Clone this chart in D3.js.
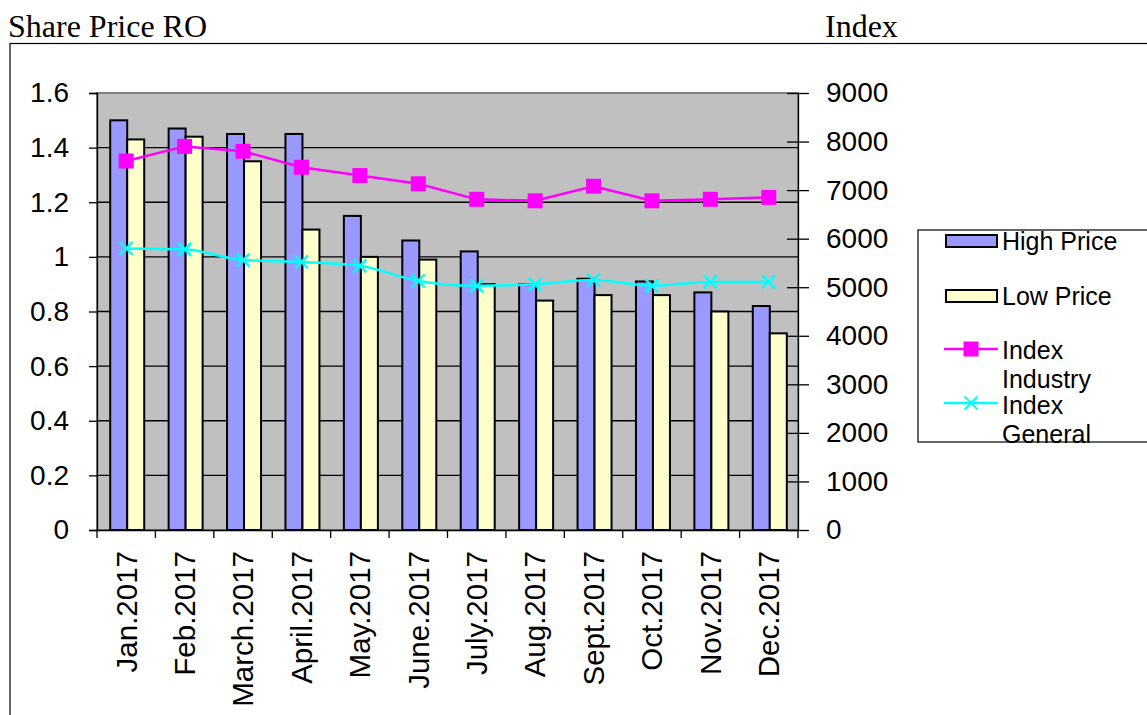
<!DOCTYPE html>
<html>
<head>
<meta charset="utf-8">
<script src="https://cdn.jsdelivr.net/npm/d3@7"></script>
<style>
  body { margin: 0; background: #fff; }
  svg text { font-family: "Liberation Sans", Arial, sans-serif; }
</style>
</head>
<body>
<div id="chart"></div>
<script>
// Data
const months = ['Jan.2017', 'Feb.2017', 'March.2017', 'April.2017', 'May.2017', 'June.2017',
    'July.2017', 'Aug.2017', 'Sept.2017', 'Oct.2017', 'Nov.2017', 'Dec.2017'];
const highPrice = [1.50, 1.47, 1.45, 1.45, 1.15, 1.06, 1.02, 0.90, 0.92, 0.91, 0.87, 0.82];
const lowPrice = [1.43, 1.44, 1.35, 1.10, 1.00, 0.99, 0.90, 0.84, 0.86, 0.86, 0.80, 0.72];
const indexIndustry = [7600, 7900, 7800, 7470, 7300, 7130, 6810, 6780, 7080, 6780, 6810, 6850];
const indexGeneral = [5800, 5780, 5560, 5520, 5440, 5130, 5030, 5060, 5150, 5030, 5110, 5110];
const leftTicks = [0, 0.2, 0.4, 0.6, 0.8, 1, 1.2, 1.4, 1.6];
const rightTicks = [0, 1000, 2000, 3000, 4000, 5000, 6000, 7000, 8000, 9000];

const width = 1147;
const height = 715;
const plot = { left: 97, right: 798, top: 93, bottom: 530 };

const svg = d3.select('#chart')
    .append('svg')
    .attr('width', width)
    .attr('height', height);

// Titles above the frame
svg.append('text')
    .attr('x', 8).attr('y', 37)
    .style('font-family', '"Liberation Serif", "Times New Roman", serif')
    .style('font-size', '32px')
    .text('Share Price RO');
svg.append('text')
    .attr('x', 825).attr('y', 37)
    .style('font-family', '"Liberation Serif", "Times New Roman", serif')
    .style('font-size', '32px')
    .text('Index');

// Outer frame
svg.append('rect')
    .attr('x', 10).attr('y', 43.5)
    .attr('width', width).attr('height', height)
    .attr('fill', 'none')
    .attr('stroke', '#000')
    .attr('stroke-width', 1.2);

// Scales
const x = d3.scaleBand()
    .domain(months)
    .range([plot.left, plot.right]);

const yLeft = d3.scaleLinear()
    .domain([0, 1.6])
    .range([plot.bottom, plot.top]);

const yRight = d3.scaleLinear()
    .domain([0, 9000])
    .range([plot.bottom, plot.top]);

// Plot area
svg.append('rect')
    .attr('x', plot.left).attr('y', plot.top)
    .attr('width', plot.right - plot.left)
    .attr('height', plot.bottom - plot.top)
    .attr('fill', '#c0c0c0')
    .attr('stroke', '#808080')
    .attr('stroke-width', 2);

// Gridlines
svg.append('g')
    .selectAll('line')
    .data(leftTicks.slice(1, -1))
    .enter()
    .append('line')
    .attr('x1', plot.left).attr('x2', plot.right)
    .attr('y1', d => yLeft(d)).attr('y2', d => yLeft(d))
    .attr('stroke', '#000')
    .attr('stroke-width', 1.3);

// Bars
const barW = 17;
const bars = svg.append('g');
bars.selectAll('.high')
    .data(highPrice)
    .enter()
    .append('rect')
    .attr('class', 'high')
    .attr('x', (d, i) => x(months[i]) + x.bandwidth() / 2 - barW + 1)
    .attr('y', d => yLeft(d))
    .attr('width', barW)
    .attr('height', d => yLeft(0) - yLeft(d))
    .attr('fill', '#9999ff')
    .attr('stroke', '#000')
    .attr('stroke-width', 2);
bars.selectAll('.low')
    .data(lowPrice)
    .enter()
    .append('rect')
    .attr('class', 'low')
    .attr('x', (d, i) => x(months[i]) + x.bandwidth() / 2 + 1)
    .attr('y', d => yLeft(d))
    .attr('width', barW)
    .attr('height', d => yLeft(0) - yLeft(d))
    .attr('fill', '#ffffcc')
    .attr('stroke', '#000')
    .attr('stroke-width', 2);

// Axes
const leftAxis = d3.axisLeft(yLeft)
    .tickValues(leftTicks)
    .tickSize(8)
    .tickPadding(20)
    .tickFormat(d => d3.format('~g')(d));
svg.append('g')
    .attr('transform', `translate(${plot.left},0)`)
    .call(leftAxis)
    .call(g => g.selectAll('text').style('font-size', '28px').attr('fill', '#000'))
    .call(g => g.selectAll('line, path').attr('stroke', '#000').attr('stroke-width', 1.3));

const rightAxis = d3.axisRight(yRight)
    .tickValues(rightTicks)
    .tickSizeInner(11)
    .tickSizeOuter(0)
    .tickPadding(17)
    .tickFormat(d3.format('d'));
svg.append('g')
    .attr('transform', `translate(${plot.right},0)`)
    .call(rightAxis)
    .call(g => g.selectAll('.tick line').attr('x1', -11))
    .call(g => g.selectAll('text').style('font-size', '28px').attr('fill', '#000'))
    .call(g => g.selectAll('line, path').attr('stroke', '#000').attr('stroke-width', 1.3));

const xAxis = d3.axisBottom(x).tickSize(0).tickPadding(0);
const xg = svg.append('g')
    .attr('transform', `translate(0,${plot.bottom})`)
    .call(xAxis);
xg.select('.domain').attr('stroke', '#000').attr('stroke-width', 1.3);
xg.selectAll('text')
    .attr('transform', 'rotate(-90)')
    .attr('x', -21)
    .attr('y', 0)
    .attr('dy', '0.35em')
    .attr('text-anchor', 'end')
    .attr('fill', '#000')
    .style('font-size', '29.5px');
// boundary ticks between categories
xg.selectAll('.bound')
    .data(months.concat(['end']))
    .enter()
    .append('line')
    .attr('class', 'bound')
    .attr('x1', (d, i) => i < months.length ? x(d) : plot.right)
    .attr('x2', (d, i) => i < months.length ? x(d) : plot.right)
    .attr('y1', 0).attr('y2', 8)
    .attr('stroke', '#000')
    .attr('stroke-width', 1.3);

// Lines
const cx = (d, i) => x(months[i]) + x.bandwidth() / 2;
const lineGen = d3.line().x(cx).y(d => yRight(d));

svg.append('path')
    .datum(indexIndustry)
    .attr('d', lineGen)
    .attr('fill', 'none')
    .attr('stroke', '#ff00ff')
    .attr('stroke-width', 2.5);
svg.append('g')
    .selectAll('rect')
    .data(indexIndustry)
    .enter()
    .append('rect')
    .attr('x', (d, i) => cx(d, i) - 7.5)
    .attr('y', d => yRight(d) - 7.5)
    .attr('width', 15).attr('height', 15)
    .attr('fill', '#ff00ff');

svg.append('path')
    .datum(indexGeneral)
    .attr('d', lineGen.curve(d3.curveMonotoneX))
    .attr('fill', 'none')
    .attr('stroke', '#00ffff')
    .attr('stroke-width', 2.5);
const crossPath = 'M-6.5,-6.5L6.5,6.5M-6.5,6.5L6.5,-6.5';
svg.append('g')
    .selectAll('path')
    .data(indexGeneral)
    .enter()
    .append('path')
    .attr('transform', (d, i) => `translate(${cx(d, i)},${yRight(d)})`)
    .attr('d', crossPath)
    .attr('stroke', '#00ffff')
    .attr('stroke-width', 2.5);

// Legend
const legend = svg.append('g');
legend.append('rect')
    .attr('x', 918).attr('y', 230)
    .attr('width', 300).attr('height', 212)
    .attr('fill', '#fff')
    .attr('stroke', '#000')
    .attr('stroke-width', 1.2);

const legendText = (y, t) => legend.append('text')
    .attr('x', 1002).attr('y', y)
    .style('font-size', '25px')
    .text(t);

legend.append('rect')
    .attr('x', 946).attr('y', 235).attr('width', 51).attr('height', 12)
    .attr('fill', '#9999ff').attr('stroke', '#000').attr('stroke-width', 2);
legendText(250, 'High Price');

legend.append('rect')
    .attr('x', 946).attr('y', 290).attr('width', 51).attr('height', 12)
    .attr('fill', '#ffffcc').attr('stroke', '#000').attr('stroke-width', 2);
legendText(305, 'Low Price');

legend.append('line')
    .attr('x1', 944).attr('x2', 998).attr('y1', 349).attr('y2', 349)
    .attr('stroke', '#ff00ff').attr('stroke-width', 2.5);
legend.append('rect')
    .attr('x', 963.5).attr('y', 341.5).attr('width', 15).attr('height', 15)
    .attr('fill', '#ff00ff');
legendText(359, 'Index');
legendText(388, 'Industry');

legend.append('line')
    .attr('x1', 944).attr('x2', 998).attr('y1', 403).attr('y2', 403)
    .attr('stroke', '#00ffff').attr('stroke-width', 2.5);
legend.append('path')
    .attr('transform', 'translate(971,403)')
    .attr('d', crossPath)
    .attr('stroke', '#00ffff').attr('stroke-width', 2);
legendText(414, 'Index');
legendText(443, 'General');
</script>
</body>
</html>
